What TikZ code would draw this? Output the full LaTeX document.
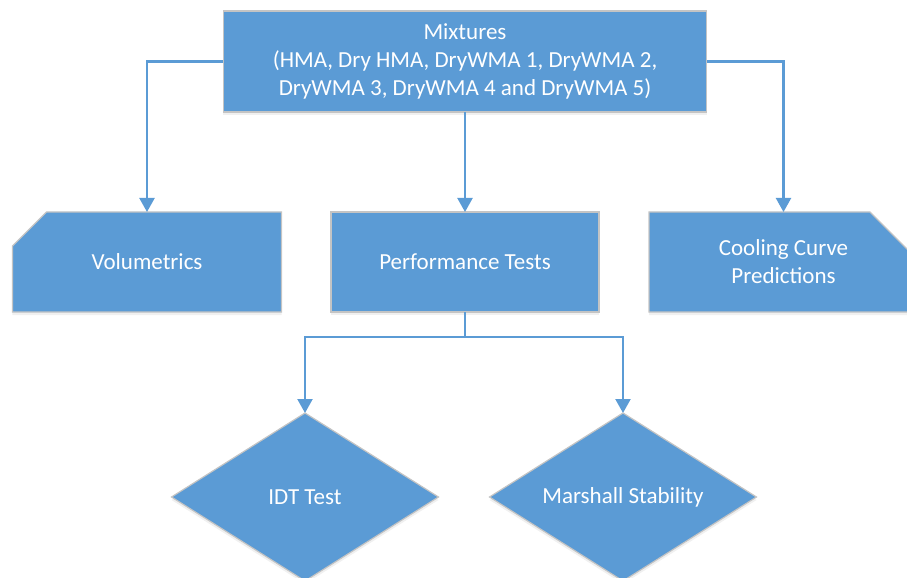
\documentclass[tikz,border=0pt]{standalone}
\usepackage{fontspec}
\setmainfont{Carlito}
\usetikzlibrary{shapes.geometric,shapes.misc,arrows.meta,shadows}
\definecolor{boxblue}{HTML}{5B9BD5}
\definecolor{edgegray}{HTML}{C4C4C4}
\begin{document}
\begin{tikzpicture}[x=1bp,y=-1bp,
  base/.style={fill=boxblue,draw=edgegray,line width=1.2bp,text=white,
    font=\fontsize{23bp}{28bp}\selectfont,align=center,inner sep=0pt,outer sep=0pt,
    drop shadow={opacity=0.12,shadow xshift=0bp,shadow yshift=-3bp}},
  box/.style={base,rectangle,minimum width=#1,minimum height=100bp},
  chbox/.style={base,chamfered rectangle,chamfered rectangle corners=#1,
    chamfered rectangle xsep=27bp,chamfered rectangle ysep=26bp,
    minimum width=269bp,minimum height=100bp},
  decision/.style={base,diamond,aspect=1.6,minimum width=267bp,minimum height=168bp},
  conn/.style={draw=boxblue,line width=2.2bp,-{Triangle[width=15bp,length=14bp]}}
]
\useasboundingbox (0,0) rectangle (907,578);
\clip (0,0) rectangle (907,578);
\node[box=483bp,minimum height=101bp] (top) at (465,61.5)
  {Mixtures\\(HMA, Dry HMA, DryWMA 1, DryWMA 2,\\DryWMA 3, DryWMA 4 and DryWMA 5)};
\node[chbox=north west] (vol) at (147,262) {Volumetrics};
\node[box=268bp] (perf) at (465,262) {Performance Tests};
\node[chbox=north east] (cool) at (783.5,262) {Cooling Curve\\Predictions};
\node[decision] (idt) at (305,497) {IDT Test};
\node[decision] (mar) at (623,497) {Marshall Stability};
\draw[conn] (top.west) -| (vol.north);
\draw[conn] (top.south) -- (perf.north);
\draw[conn] (top.east) -| (cool.north);
\coordinate (split) at ([yshift=-25bp]perf.south);
\draw[conn] (perf.south) -- (split) -| (idt.north);
\draw[conn] (split) -| (mar.north);
\end{tikzpicture}
\end{document}
